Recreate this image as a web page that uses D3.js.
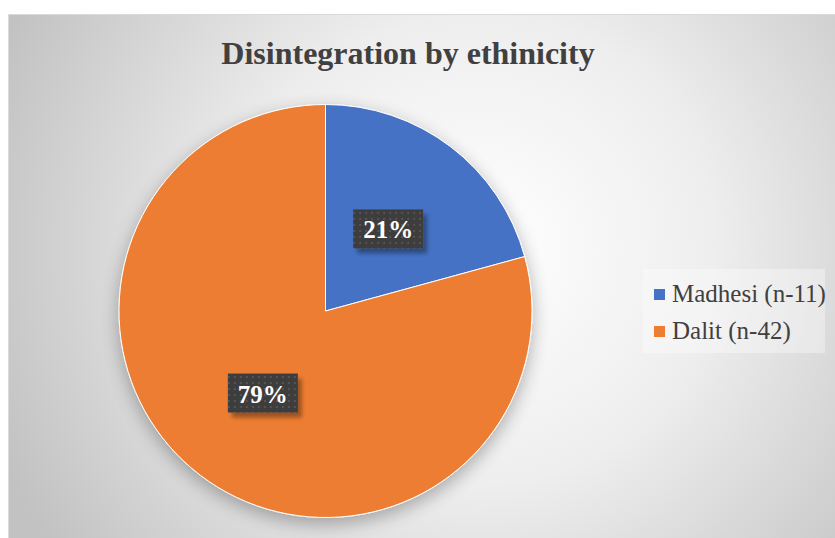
<!DOCTYPE html>
<html><head><meta charset="utf-8">
<script src="https://cdn.jsdelivr.net/npm/d3@7"></script>
<style>html,body{margin:0;padding:0;background:#fff;}svg{display:block;}
text{font-family:"Liberation Serif","Times New Roman",serif;}</style>
</head><body>
<svg id="c" width="835" height="538"></svg>
<script>
const categories = ["Madhesi (n-11)", "Dalit (n-42)"];
const values = [11, 42];
const labels = ["21%", "79%"];
const colors = ["#4472C4", "#ED7D31"];
const title = "Disintegration by ethinicity";

const svg = d3.select("#c");
const defs = svg.append("defs");
const rg = defs.append("radialGradient").attr("id","bg").attr("gradientUnits","userSpaceOnUse")
  .attr("cx",480).attr("cy",250).attr("r",520);
rg.append("stop").attr("offset","0%").attr("stop-color","#ffffff");
rg.append("stop").attr("offset","45%").attr("stop-color","#eeeeee");
rg.append("stop").attr("offset","100%").attr("stop-color","#c2c2c2");
const sh = defs.append("filter").attr("id","sh").attr("x","-20%").attr("y","-20%").attr("width","140%").attr("height","140%");
sh.append("feGaussianBlur").attr("in","SourceAlpha").attr("stdDeviation",9).attr("result","b");
sh.append("feOffset").attr("in","b").attr("dx",0).attr("dy",6).attr("result","o");
sh.append("feComponentTransfer").attr("in","o").attr("result","o2").append("feFuncA").attr("type","linear").attr("slope",0.3);
const m = sh.append("feMerge"); m.append("feMergeNode").attr("in","o2"); m.append("feMergeNode").attr("in","SourceGraphic");
const lsh = defs.append("filter").attr("id","lsh").attr("x","-20%").attr("y","-20%").attr("width","150%").attr("height","150%");
lsh.append("feGaussianBlur").attr("in","SourceAlpha").attr("stdDeviation",2).attr("result","b");
lsh.append("feOffset").attr("in","b").attr("dx",4).attr("dy",5).attr("result","o");
lsh.append("feComponentTransfer").attr("in","o").attr("result","o2").append("feFuncA").attr("type","linear").attr("slope",0.35);
const m2 = lsh.append("feMerge"); m2.append("feMergeNode").attr("in","o2"); m2.append("feMergeNode").attr("in","SourceGraphic");
const pat = defs.append("pattern").attr("id","pat").attr("patternUnits","userSpaceOnUse").attr("width",6).attr("height",6);
pat.append("rect").attr("width",6).attr("height",6).attr("fill","#3d3d3d");
pat.append("rect").attr("x",1).attr("y",1).attr("width",2).attr("height",2).attr("fill","#555555");

svg.append("rect").attr("x",8.5).attr("y",14.5).attr("width",840).attr("height",540)
  .attr("fill","url(#bg)").attr("stroke","#dadada");

svg.append("text").attr("x",408).attr("y",64).attr("text-anchor","middle")
  .attr("font-weight","bold").attr("font-size",32).attr("fill","#404040").text(title);

const cx = 325.5, cy = 311, r = 206.5;
const pie = d3.pie().sort(null).value(d=>d)(values);
const arc = d3.arc().innerRadius(0).outerRadius(r);
const g = svg.append("g").attr("transform",`translate(${cx},${cy})`);
g.append("g").attr("filter","url(#sh)").selectAll("path").data(pie).join("path")
  .attr("d",arc).attr("fill",(d,i)=>colors[i]).attr("stroke","#fff").attr("stroke-width",1);

const lpos = d3.arc().innerRadius(r*0.5).outerRadius(r*0.5);
pie.forEach((d,i)=>{
  const [x,y] = lpos.centroid(d);
  const lg = g.append("g").attr("transform",`translate(${x},${y})`);
  lg.append("rect").attr("x",-35).attr("y",-19.5).attr("width",70).attr("height",39)
    .attr("fill","url(#pat)").attr("filter","url(#lsh)");
  lg.append("text").attr("text-anchor","middle").attr("y",9.5)
    .attr("font-weight","bold").attr("font-size",25).attr("fill","#fff").text(labels[i]);
});

const leg = svg.append("g");
leg.append("rect").attr("x",643).attr("y",269).attr("width",182).attr("height",84)
  .attr("fill","#ffffff").attr("fill-opacity",0.35);
categories.forEach((c,i)=>{
  const base = 302 + i*37;
  leg.append("rect").attr("x",654).attr("y",base-13).attr("width",11).attr("height",11).attr("fill",colors[i]);
  leg.append("text").attr("x",672).attr("y",base)
    .attr("font-size",25).attr("fill","#404040").text(c);
});
</script>
</body></html>
